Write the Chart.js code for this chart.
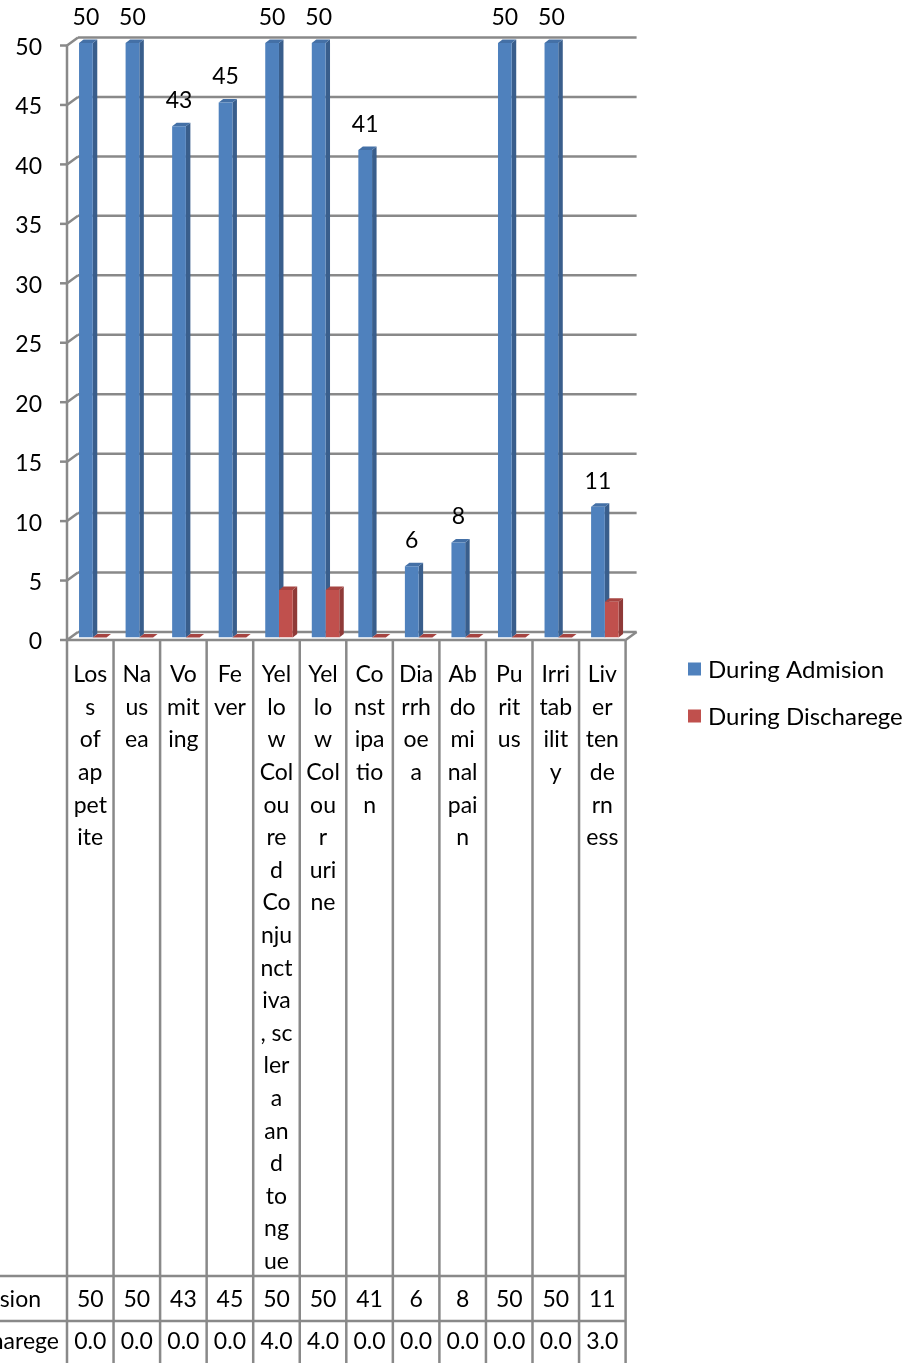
<!DOCTYPE html>
<html>
<head>
<meta charset="utf-8">
<style>
  html, body { margin: 0; padding: 0; background: #ffffff; }
  canvas { display: block; }
</style>
<script src="https://cdn.jsdelivr.net/npm/chart.js@4.4.1/dist/chart.umd.min.js"></script>
</head>
<body>
<canvas id="chart" width="914" height="1363"></canvas>
<script>
// Symptom names and the way each one wraps inside its narrow table column
const categories = [
  'Loss of appetite', 'Nausea', 'Vomiting', 'Fever',
  'Yellow Coloured Conjunctiva, sclera and tongue', 'Yellow Colour urine',
  'Constipation', 'Diarrhoea', 'Abdominal pain', 'Puritus', 'Irritability',
  'Liver tenderness'
];
const categoryLines = [
  ['Los', 's', 'of', 'ap', 'pet', 'ite'],
  ['Na', 'us', 'ea'],
  ['Vo', 'mit', 'ing'],
  ['Fe', 'ver'],
  ['Yel', 'lo', 'w', 'Col', 'ou', 're', 'd', 'Co', 'nju', 'nct', 'iva', ', sc', 'ler', 'a', 'an', 'd', 'to', 'ng', 'ue'],
  ['Yel', 'lo', 'w', 'Col', 'ou', 'r', 'uri', 'ne'],
  ['Co', 'nst', 'ipa', 'tio', 'n'],
  ['Dia', 'rrh', 'oe', 'a'],
  ['Ab', 'do', 'mi', 'nal', 'pai', 'n'],
  ['Pu', 'rit', 'us'],
  ['Irri', 'tab', 'ilit', 'y'],
  ['Liv', 'er', 'ten', 'de', 'rn', 'ess']
];

// Patient counts per symptom
const duringAdmision = [50, 50, 43, 45, 50, 50, 41, 6, 8, 50, 50, 11];
const duringDischarege = [0, 0, 0, 0, 4, 4, 0, 0, 0, 0, 0, 3];
const seriesNames = ['During Admision', 'During Discharege'];

// Value axis ticks
const yTicks = [0, 5, 10, 15, 20, 25, 30, 35, 40, 45, 50];

const FONT = "Lato, 'Open Sans', sans-serif";
const TEXT_SIZE = 23;
const LEGEND_SIZE = 24;
const FACE = ['#4F81BD', '#C0504D'];
const SIDE = ['#395E8C', '#8F3A38'];
const TOP = ['#4470A6', '#A64441'];
const LINE = '#898989';

const BAR_SHIFT = 2.5;   // bars sit slightly behind the front plane
const BAR_DX = 4.5, BAR_DY = 3.5;   // bar depth
const WALL_DX = 11;                  // floor / back wall depth
const FRONT_DY = 2.5, BACK_DY = -5.5;

function seg(ctx, x1, y1, x2, y2) {
  ctx.beginPath(); ctx.moveTo(x1, y1); ctx.lineTo(x2, y2); ctx.stroke();
}
function poly(ctx, pts, color) {
  ctx.beginPath();
  ctx.moveTo(pts[0][0], pts[0][1]);
  for (let i = 1; i < pts.length; i++) ctx.lineTo(pts[i][0], pts[i][1]);
  ctx.closePath();
  ctx.fillStyle = color; ctx.fill();
}

const columnChart3d = {
  id: 'columnChart3d',
  beforeDatasetsDraw(chart) {
    const ctx = chart.ctx, a = chart.chartArea, ys = chart.scales.y;
    const front = v => ys.getPixelForValue(v) + FRONT_DY;
    const back = v => ys.getPixelForValue(v) + BACK_DY;
    const FX = a.left, BX = a.left + WALL_DX, FR = a.right, BR = a.right + WALL_DX;
    ctx.save();
    ctx.strokeStyle = LINE; ctx.lineWidth = 2.5; ctx.lineCap = 'butt';
    yTicks.forEach(v => {
      seg(ctx, BX, back(v), BR, back(v));        // back wall gridline
      seg(ctx, FX, front(v), BX, back(v));        // side wall edge
      seg(ctx, FX - 7, front(v), FX, front(v));   // tick mark
    });
    seg(ctx, FX, front(0), FX, front(yTicks[yTicks.length - 1]));  // value axis
    seg(ctx, FX, front(0), FR, front(0));          // floor front edge
    seg(ctx, FR, front(0), BR, back(0));           // floor right edge
    ctx.restore();

    ctx.save();
    ctx.translate(BAR_SHIFT, 0);
    // side and top faces go underneath the front faces drawn by the bar elements
    chart.data.datasets.forEach((ds, i) => {
      chart.getDatasetMeta(i).data.forEach(bar => {
        const p = bar.getProps(['x', 'y', 'base', 'width'], true);
        const l = p.x - p.width / 2, r = p.x + p.width / 2;
        poly(ctx, [[r, p.y], [r + BAR_DX, p.y - BAR_DY], [r + BAR_DX, p.base - BAR_DY], [r, p.base]], SIDE[i]);
        poly(ctx, [[l, p.y], [l + BAR_DX, p.y - BAR_DY], [r + BAR_DX, p.y - BAR_DY], [r, p.y]], TOP[i]);
      });
    });
  },
  afterDatasetsDraw(chart) {
    const ctx = chart.ctx;
    const meta = chart.getDatasetMeta(0);
    ctx.fillStyle = '#000';
    ctx.font = TEXT_SIZE + 'px ' + FONT;
    ctx.textAlign = 'center'; ctx.textBaseline = 'middle';
    meta.data.forEach((bar, k) => {
      const p = bar.getProps(['x', 'y'], true);
      ctx.fillText(String(chart.data.datasets[0].data[k]), p.x, p.y - 25.5);
    });
    ctx.restore();
  },
  afterDraw(chart) {
    const ctx = chart.ctx, a = chart.chartArea, ys = chart.scales.y, xs = chart.scales.x;
    const front = v => ys.getPixelForValue(v) + FRONT_DY;
    const H = chart.height;
    const colW = a.width / categories.length;
    const row1 = 1276, row2 = 1321;
    ctx.save();
    // data table grid
    ctx.strokeStyle = LINE; ctx.lineWidth = 2.5;
    for (let i = 0; i <= categories.length; i++) {
      const x = a.left + i * colW;
      seg(ctx, x, front(0), x, H);
    }
    seg(ctx, 0, row1, a.right, row1);
    seg(ctx, 0, row2, a.right, row2);

    ctx.fillStyle = '#000';
    ctx.font = TEXT_SIZE + 'px ' + FONT;
    ctx.textBaseline = 'middle';

    // value axis labels
    ctx.textAlign = 'right';
    yTicks.forEach(v => ctx.fillText(String(v), 42, front(v) + 2));

    // table values
    ctx.textAlign = 'center';
    categories.forEach((c, i) => {
      const x = xs.getPixelForValue(i);
      ctx.fillText(String(duringAdmision[i]), x, (row1 + row2) / 2 + 1);
      ctx.fillText(duringDischarege[i].toFixed(1), x, row2 + 21);
    });

    // table row headers
    ctx.textAlign = 'left';
    const hx = 41 - ctx.measureText(seriesNames[0]).width;
    ctx.fillText(seriesNames[0], hx, (row1 + row2) / 2 + 1);
    ctx.fillText(seriesNames[1], hx, row2 + 21);

    // legend
    ctx.font = LEGEND_SIZE + 'px ' + FONT;
    seriesNames.forEach((name, i) => {
      const y = 669 + i * 47;
      ctx.fillStyle = FACE[i];
      ctx.fillRect(688, y - 6.5, 13, 13);
      ctx.fillStyle = '#000';
      ctx.fillText(name, 708, y + 1);
    });
    ctx.restore();
  }
};

new Chart(document.getElementById('chart'), {
  type: 'bar',
  data: {
    labels: categoryLines,
    datasets: [
      { label: seriesNames[0], data: duringAdmision, backgroundColor: FACE[0], borderWidth: 0 },
      { label: seriesNames[1], data: duringDischarege, backgroundColor: FACE[1], borderWidth: 0 }
    ]
  },
  plugins: [columnChart3d],
  options: {
    responsive: false,
    animation: false,
    devicePixelRatio: 1,
    categoryPercentage: 0.59,
    barPercentage: 1.0,
    layout: { padding: { left: 67, right: 288.4, top: 43, bottom: 0 } },
    plugins: { legend: { display: false }, tooltip: { enabled: false } },
    scales: {
      x: {
        grid: { display: false, drawTicks: false },
        border: { display: false },
        ticks: {
          autoSkip: false, maxRotation: 0, minRotation: 0, padding: 21,
          color: '#000',
          font: { family: FONT, size: TEXT_SIZE, lineHeight: 32.6 / TEXT_SIZE }
        },
        afterFit: s => { s.height = 1363 - 637.5; }
      },
      y: { display: false, min: 0, max: 50 }
    }
  }
});
</script>
</body>
</html>
